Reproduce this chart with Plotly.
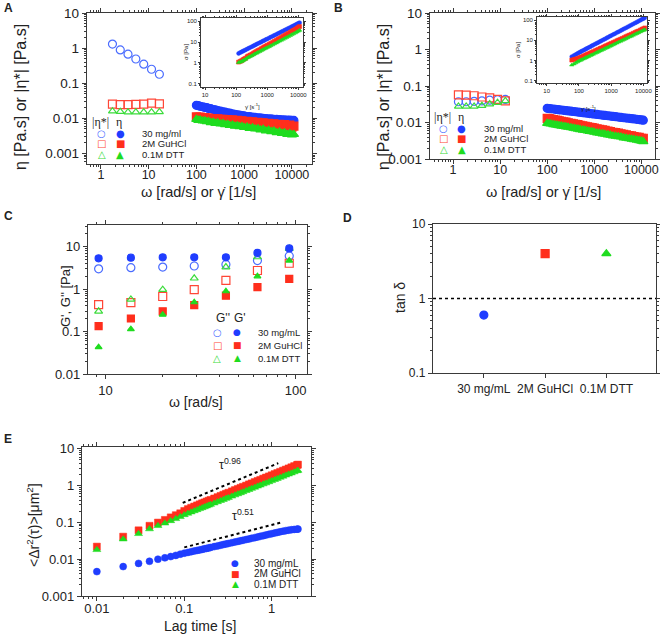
import plotly.graph_objects as go

W, H = 660, 637

# ---------------- data ----------------
# panel A / B : oscillatory |eta*| (open) and steady shear eta (filled)
omega_A = [1.75, 2.55, 3.7, 5.4, 7.9, 11.5, 16.8]
omega_B = [1.3, 1.9, 2.8, 4.1, 6.0, 8.8, 12.9]
A_etastar_30mg = [1.30, 0.89, 0.67, 0.49, 0.35, 0.25, 0.18]
A_etastar_guhcl = [0.0255, 0.0245, 0.0245, 0.025, 0.0255, 0.027, 0.026]
A_etastar_dtt = [0.016, 0.0155, 0.015, 0.015, 0.015, 0.015, 0.0152]

shear_rate = [100, 110, 120, 135, 150, 165, 180, 200, 225, 250, 280, 320, 360, 400, 450,
              500, 570, 640, 720, 800, 900, 1000, 1150, 1300, 1500, 1700, 1950, 2200, 2500,
              2850, 3250, 3700, 4200, 4800, 5500, 6200, 7000, 8000, 9000, 10000, 11000]
A_eta_30mg = [0.0235, 0.0230, 0.0220, 0.0214, 0.0205, 0.0202, 0.0192, 0.0188, 0.0178, 0.0175,
              0.0166, 0.0162, 0.0153, 0.0151, 0.0143, 0.0141, 0.0134, 0.0131, 0.0126, 0.0124,
              0.0119, 0.0118, 0.0113, 0.0112, 0.0108, 0.0107, 0.0104, 0.0103, 0.0100, 0.0099,
              0.0097, 0.0096, 0.0094, 0.0093, 0.0092, 0.0091, 0.0090, 0.0089, 0.0089, 0.0088, 0.0087]
A_eta_guhcl = [0.0110, 0.0106, 0.0108, 0.0103, 0.0105, 0.0101, 0.0102, 0.0098, 0.0099, 0.0095,
               0.0097, 0.0093, 0.0094, 0.0091, 0.0092, 0.0088, 0.0090, 0.0085, 0.0087, 0.0083,
               0.0085, 0.0081, 0.0082, 0.0078, 0.0080, 0.0076, 0.0077, 0.0073, 0.0075, 0.0070,
               0.0072, 0.0068, 0.0070, 0.0066, 0.0068, 0.0063, 0.0066, 0.0060, 0.0064, 0.0056, 0.0060]
A_eta_dtt = [0.0094, 0.0088, 0.0090, 0.0084, 0.0085, 0.0080, 0.0082, 0.0076, 0.0078, 0.0072,
             0.0075, 0.0069, 0.0071, 0.0066, 0.0068, 0.0063, 0.0065, 0.0060, 0.0062, 0.0058,
             0.0059, 0.0055, 0.0057, 0.0052, 0.0054, 0.0050, 0.0051, 0.0047, 0.0049, 0.0044,
             0.0046, 0.0042, 0.0044, 0.0039, 0.0041, 0.0037, 0.0039, 0.0035, 0.0037, 0.0034, 0.0035]

A_inset_rate = shear_rate[2:]
A_sigma_30mg = [2.87, 3.13, 3.39, 3.64, 3.89, 4.22, 4.61, 4.99, 5.43, 6.01, 6.57, 7.12,
                7.77, 8.42, 9.29, 10.1, 11.1, 12.0, 13.1, 14.1, 15.7, 17.2, 19.1, 21.0, 23.2, 25.4,
                28.0, 30.8, 34.0, 37.5, 41.1, 45.4, 50.2, 54.9, 60.1, 66.4, 72.4, 79.1, 84.3]
A_sigma_guhcl = [1.10, 1.19, 1.28, 1.42, 1.55, 1.68, 1.99, 2.18, 2.39, 2.63, 2.94, 3.25, 3.56,
                 3.94, 4.31, 4.81, 5.31, 5.87, 6.41, 7.08, 7.75, 8.72, 9.67, 10.9, 12.1, 13.6, 15.1,
                 16.9, 18.9, 21.1, 23.6, 26.2, 29.4, 33.0, 36.6, 40.6, 45.6, 50.4, 55.0]
A_sigma_dtt = [1.05, 1.10, 1.18, 1.28, 1.38, 1.50, 1.72, 1.88, 2.04, 2.23, 2.48, 2.72, 2.95,
               3.23, 3.51, 3.89, 4.25, 4.66, 5.06, 5.55, 6.03, 6.71, 7.39, 8.27, 9.10, 10.1, 11.1,
               12.3, 13.6, 15.1, 16.7, 18.4, 20.5, 22.7, 25.0, 27.5, 30.6, 33.5, 36.3]

B_etastar_30mg = [0.037, 0.037, 0.038, 0.039, 0.041, 0.042, 0.043]
B_etastar_guhcl = [0.057, 0.056, 0.054, 0.050, 0.047, 0.043, 0.039]
B_etastar_dtt = [0.0276, 0.0275, 0.0276, 0.029, 0.032, 0.035, 0.039]

B_eta_30mg = [0.0245, 0.0241, 0.0238, 0.0234, 0.0230, 0.0226, 0.0223, 0.0220, 0.0215, 0.0212,
              0.0208, 0.0204, 0.0200, 0.0197, 0.0193, 0.0190, 0.0186, 0.0182, 0.0179, 0.0176,
              0.0173, 0.0170, 0.0166, 0.0163, 0.0159, 0.0156, 0.0153, 0.0150, 0.0147, 0.0144,
              0.0141, 0.0138, 0.0135, 0.0132, 0.0130, 0.0127, 0.0125, 0.0122, 0.0120, 0.0118, 0.0116]
B_eta_guhcl = [0.0130, 0.0127, 0.0124, 0.0120, 0.0116, 0.0114, 0.0111, 0.0108, 0.0104, 0.0102,
               0.0098, 0.0095, 0.0092, 0.0089, 0.0087, 0.0084, 0.0081, 0.0079, 0.0076, 0.0074,
               0.0072, 0.0070, 0.0067, 0.0065, 0.0063, 0.0061, 0.0058, 0.0056, 0.0054, 0.0053,
               0.0051, 0.0049, 0.0047, 0.0046, 0.0044, 0.0043, 0.0041, 0.0040, 0.0039, 0.0037, 0.0037]
B_eta_dtt = [0.0095, 0.0093, 0.0091, 0.0088, 0.0086, 0.0084, 0.0082, 0.0080, 0.0078, 0.0076,
             0.0074, 0.0072, 0.0070, 0.0068, 0.0066, 0.0064, 0.0062, 0.0061, 0.0059, 0.0057,
             0.0056, 0.0054, 0.0052, 0.0051, 0.0049, 0.0048, 0.0046, 0.0045, 0.0043, 0.0042,
             0.0041, 0.0040, 0.0038, 0.0037, 0.0036, 0.0035, 0.0034, 0.0033, 0.0032, 0.0031, 0.0030]

B_inset_rate = [60, 70, 80, 90] + shear_rate
B_sigma_30mg = [1.55, 1.78, 2.00, 2.23, 2.45, 2.65, 2.86, 3.16, 3.45, 3.73, 4.01, 4.40, 4.84, 5.30,
                5.82, 6.53, 7.20, 7.88, 8.69, 9.50, 10.6, 11.6, 12.9, 14.1, 15.6, 17.0, 19.1, 21.2,
                23.9, 26.5, 29.8, 33.0, 36.8, 41.0, 45.8, 51.1, 56.7, 63.4, 71.5, 78.7, 87.5, 97.6,
                108, 118, 128]
B_sigma_guhcl = [1.05, 1.12, 1.18, 1.24, 1.30, 1.40, 1.49, 1.62, 1.74, 1.88, 2.00, 2.16, 2.34, 2.55,
                 2.74, 3.04, 3.31, 3.56, 3.92, 4.20, 4.62, 5.06, 5.47, 5.92, 6.48, 7.00, 7.71, 8.45,
                 9.45, 10.4, 11.3, 12.3, 13.5, 15.1, 16.6, 18.1, 19.7, 22.1, 24.2, 26.7, 28.7, 32.0,
                 35.1, 37.0, 40.7]
B_sigma_dtt = [0.60, 0.68, 0.77, 0.86, 0.95, 1.02, 1.09, 1.19, 1.29, 1.39, 1.48, 1.60, 1.76, 1.90,
               2.07, 2.30, 2.52, 2.72, 2.97, 3.20, 3.53, 3.90, 4.25, 4.56, 5.04, 5.40, 5.98, 6.63,
               7.35, 8.16, 8.97, 9.90, 10.8, 12.0, 13.3, 14.8, 16.0, 17.8, 19.8, 21.7, 23.8, 26.4,
               28.8, 31.0, 33.0]

# panel C : G' (filled), G'' (open)
omega_C = [9.2, 13.6, 20, 29.3, 43, 63, 92.6]
Gp_30mg = [5.3, 5.5, 5.6, 5.6, 5.6, 7.1, 9.1]
Gpp_30mg = [3.0, 3.2, 3.3, 3.5, 3.8, 4.7, 6.05]
Gp_guhcl = [0.134, 0.203, 0.30, 0.42, 0.70, 1.11, 1.75]
Gpp_guhcl = [0.43, 0.48, 0.67, 0.97, 1.6, 2.74, 4.06]
Gp_dtt = [0.043, 0.114, 0.25, 0.49, 0.89, 2.0, 4.7]
Gpp_dtt = [0.30, 0.57, 0.97, 1.8, 3.3, 5.7, 9.0]

# panel D : tan delta
samples_C = ["30 mg/mL", "2M GuHCl", "0.1M DTT"]
tan_delta = [0.60, 4.0, 4.0]

# panel E : MSD
lag_time = [0.01, 0.02, 0.03, 0.04, 0.05, 0.06, 0.07, 0.08, 0.09, 0.10,
            0.11, 0.12, 0.13, 0.14, 0.15, 0.16, 0.17, 0.18, 0.19, 0.20, 0.22, 0.24, 0.26, 0.28,
            0.30, 0.32, 0.35, 0.38, 0.41, 0.44, 0.47, 0.51, 0.55, 0.59, 0.64, 0.69, 0.74, 0.80,
            0.86, 0.93, 1.00, 1.08, 1.16, 1.25, 1.35, 1.45, 1.56, 1.68, 1.81, 1.95, 2.00]
msd_30mg = [0.0046, 0.0063, 0.0077, 0.0088, 0.0100, 0.0109, 0.0118, 0.0127, 0.0137, 0.0146,
            0.0153, 0.0160, 0.0167, 0.0173, 0.0179, 0.0185, 0.0191, 0.0197, 0.0203, 0.0209,
            0.0220, 0.0230, 0.0240, 0.0250, 0.0259, 0.0268, 0.0281, 0.0293, 0.0305, 0.0316,
            0.0327, 0.0342, 0.0356, 0.0370, 0.0386, 0.0402, 0.0418, 0.0436, 0.0454, 0.0474,
            0.0493, 0.0514, 0.0535, 0.0556, 0.0578, 0.0598, 0.0616, 0.0632, 0.0645, 0.0655, 0.0658]
msd_guhcl = [0.022, 0.041, 0.061, 0.081, 0.099, 0.117, 0.137, 0.157, 0.177, 0.205,
             0.230, 0.250, 0.270, 0.290, 0.310, 0.330, 0.349, 0.369, 0.389, 0.408, 0.447, 0.486,
             0.525, 0.564, 0.603, 0.641, 0.698, 0.757, 0.813, 0.869, 0.927, 1.00, 1.08, 1.15,
             1.25, 1.34, 1.43, 1.55, 1.66, 1.78, 1.91, 2.06, 2.20, 2.37, 2.55, 2.73, 2.93, 3.15,
             3.39, 3.63, 3.72]
msd_dtt = [0.018, 0.035, 0.049, 0.066, 0.081, 0.095, 0.110, 0.125, 0.142, 0.160,
           0.175, 0.190, 0.205, 0.219, 0.234, 0.248, 0.262, 0.277, 0.291, 0.305, 0.333, 0.361,
           0.389, 0.416, 0.444, 0.471, 0.512, 0.552, 0.593, 0.632, 0.673, 0.726, 0.777, 0.830,
           0.895, 0.960, 1.02, 1.10, 1.17, 1.26, 1.35, 1.45, 1.55, 1.66, 1.78, 1.91, 2.04, 2.18,
           2.34, 2.51, 2.56]
guide_096_t = [0.096, 1.19]
guide_096_y = [0.34, 4.07]
guide_051_t = [0.10, 1.29]
guide_051_y = [0.021, 0.10]

labels_A = ["30 mg/ml", "2M GuHCl", "0.1M DTT"]
labels_C = ["30 mg/mL", "2M GuHCl", "0.1M DTT"]

BLUE, RED, GREEN = "#1f3dff", "#ff2e1c", "#1fdc1f"
BLUE_O, RED_O, GREEN_O = "#4a6cff", "#ff4636", "#3cdc3c"
AX = "#3a3a3a"
FONT = "Arial, Liberation Sans, sans-serif"


def xd(p0, p1):
    return [p0 / W, p1 / W]


def yd(p0, p1):
    return [1 - p1 / H, 1 - p0 / H]


minor_vals = [m * 10 ** e for e in range(-4, 6) for m in range(2, 10)]


def logax(dom, rng, vals, size, anchor, tl=4, mtl=2, lw=1.4, standoff=0):
    return dict(type="log", domain=dom, range=rng, anchor=anchor, automargin=False,
                showline=True, linecolor=AX, linewidth=lw, mirror="allticks",
                ticks="outside", ticklen=tl, tickwidth=1.1, tickcolor=AX,
                tickvals=vals, ticktext=["%g" % v for v in vals],
                ticklabelstandoff=standoff,
                tickfont=dict(size=size, family=FONT, color="#222"),
                showgrid=False, zeroline=False,
                minor=dict(ticks="outside", ticklen=mtl, tickwidth=0.9, tickcolor=AX,
                           tickvals=minor_vals, showgrid=False))


fig = go.Figure()


def sc(x, y, sym, col, size, xa, ya, lw=1.2):
    fig.add_trace(go.Scatter(x=x, y=y, mode="markers", xaxis=xa, yaxis=ya, showlegend=False,
                             marker=dict(symbol=sym, color=col, size=size,
                                         line=dict(color=col, width=lw))))


# A
sc(omega_A, A_etastar_30mg, "circle-open", BLUE_O, 8, "x", "y")
sc(omega_A, A_etastar_guhcl, "square-open", RED_O, 8, "x", "y")
sc(omega_A, A_etastar_dtt, "triangle-up-open", GREEN_O, 7, "x", "y")
sc(shear_rate, A_eta_30mg, "circle", BLUE, 8, "x", "y")
sc(shear_rate, A_eta_guhcl, "square", RED, 8, "x", "y")
sc(shear_rate, A_eta_dtt, "triangle-up", GREEN, 8, "x", "y")
sc(A_inset_rate, A_sigma_30mg, "circle", BLUE, 4, "x2", "y2", 0.5)
sc(A_inset_rate, A_sigma_guhcl, "square", RED, 4, "x2", "y2", 0.5)
sc(A_inset_rate, A_sigma_dtt, "triangle-up", GREEN, 4, "x2", "y2", 0.5)
# B
sc(omega_B, B_etastar_30mg, "circle-open", BLUE_O, 8, "x3", "y3")
sc(omega_B, B_etastar_guhcl, "square-open", RED_O, 8, "x3", "y3")
sc(omega_B, B_etastar_dtt, "triangle-up-open", GREEN_O, 7, "x3", "y3")
sc(shear_rate, B_eta_30mg, "circle", BLUE, 8, "x3", "y3")
sc(shear_rate, B_eta_guhcl, "square", RED, 8, "x3", "y3")
sc(shear_rate, B_eta_dtt, "triangle-up", GREEN, 8, "x3", "y3")
sc(B_inset_rate, B_sigma_30mg, "circle", BLUE, 4, "x4", "y4", 0.5)
sc(B_inset_rate, B_sigma_guhcl, "square", RED, 4, "x4", "y4", 0.5)
sc(B_inset_rate, B_sigma_dtt, "triangle-up", GREEN, 4, "x4", "y4", 0.5)
# C
sc(omega_C, Gpp_30mg, "circle-open", BLUE_O, 8, "x5", "y5")
sc(omega_C, Gpp_guhcl, "square-open", RED_O, 8, "x5", "y5")
sc(omega_C, Gpp_dtt, "triangle-up-open", GREEN_O, 7, "x5", "y5")
sc(omega_C, Gp_30mg, "circle", BLUE, 7, "x5", "y5")
sc(omega_C, Gp_guhcl, "square", RED, 7, "x5", "y5")
sc(omega_C, Gp_dtt, "triangle-up", GREEN, 6, "x5", "y5")
# D
for i, (col, sym) in enumerate([(BLUE, "circle"), (RED, "square"), (GREEN, "triangle-up")]):
    sc([i], [tan_delta[i]], sym, col, 8, "x6", "y6")
# E
sc(lag_time, msd_30mg, "circle", BLUE, 7, "x7", "y7", 0.5)
sc(lag_time, msd_guhcl, "square", RED, 7, "x7", "y7", 0.5)
sc(lag_time, msd_dtt, "triangle-up", GREEN, 7, "x7", "y7", 0.5)
for gx, gy in [(guide_096_t, guide_096_y), (guide_051_t, guide_051_y)]:
    fig.add_trace(go.Scatter(x=gx, y=gy, mode="lines", xaxis="x7", yaxis="y7", showlegend=False,
                             line=dict(color="black", width=2, dash="dot")))

dec = [0.001, 0.01, 0.1, 1, 10]
lay = dict(
    xaxis=logax(xd(87, 312), [-0.29, 4.42], [1, 10, 100, 1000, 10000], 12.5, "y", standoff=-5),
    yaxis=logax(yd(13, 164), [-3.3, 1.0], dec, 13.5, "x"),
    xaxis2=logax(xd(201, 303), [0.87, 4.15], [10, 100, 1000, 10000], 6, "y2", 2, 1, 0.8),
    yaxis2=logax(yd(18, 87), [-1.15, 2.15], [0.1, 1, 10, 100], 6, "x2", 2, 1, 0.8),
    xaxis3=logax(xd(430, 655), [-0.49, 4.29], [1, 10, 100, 1000, 10000], 12.5, "y3", standoff=-5),
    yaxis3=logax(yd(13, 159), [-3.0, 1.0], dec, 13.5, "x3"),
    xaxis4=logax(xd(537, 647), [0.70, 4.11], [10, 100, 1000, 10000], 6, "y4", 2, 1, 0.8),
    yaxis4=logax(yd(17, 83), [-1.11, 2.15], [0.1, 1, 10, 100], 6, "x4", 2, 1, 0.8),
    xaxis5=logax(xd(88, 307), [0.908, 2.06], [10, 100], 13, "y5"),
    yaxis5=logax(yd(225, 374), [-2.0, 1.51], [0.01, 0.1, 1, 10], 13, "x5"),
    xaxis7=logax(xd(82, 311), [-2.17, 0.45], [0.01, 0.1, 1], 13, "y7", standoff=-4),
    yaxis7=logax(yd(447, 596), [-3.0, 1.05], dec, 13, "x7"),
)
lay["xaxis6"] = dict(domain=xd(433, 656), range=[-0.83, 2.81], anchor="y6", showline=True,
                     automargin=False, linecolor=AX, linewidth=1.4, mirror=True,
                     ticks="outside", ticklen=4, tickcolor=AX, tickvals=[0, 1, 2],
                     ticktext=samples_C, showgrid=False, zeroline=False,
                     tickfont=dict(size=12, family=FONT, color="#222"))
lay["yaxis6"] = logax(yd(224, 373), [-1.0, 1.0], [0.1, 1, 10], 12, "x6")

fig.update_layout(**lay)
fig.add_shape(type="line", xref="x6 domain", yref="y6", x0=0, x1=1, y0=1, y1=1,
              line=dict(color="black", width=1.5, dash="dot"))

ann = []


def txt(x, y, s, size=12, angle=0, xanchor="center", color="#222", family=FONT):
    ann.append(dict(x=x / W, y=1 - y / H, xref="paper", yref="paper", text=s, showarrow=False,
                    textangle=angle, xanchor=xanchor, yanchor="middle",
                    font=dict(size=size, family=family, color=color)))


# panel letters
for s, x, y in [("A", 8, 8), ("B", 338, 8), ("C", 8, 216), ("D", 348, 218), ("E", 8, 439)]:
    txt(x, y, "<b>%s</b>" % s, 12)

# axis titles
txt(20, 97, "η [Pa.s] or |η*| [Pa.s]", 16, -90)
txt(198, 192, "ω [rad/s] or γ̇ [1/s]", 14.5)
txt(383, 97, "η [Pa.s] or |η*| [Pa.s]", 16, -90)
txt(543, 192, "ω [rad/s] or γ̇ [1/s]", 14.5)
txt(66, 296, "G', G'' [Pa]", 13, -90)
txt(196, 402, "ω [rad/s]", 14)
txt(400, 298, "tan δ", 14, -90)
txt(33, 525, "&lt;Δr<sup>2</sup>(τ)&gt;[μm<sup>2</sup>]", 14, -90)
txt(200, 626, "Lag time [s]", 14)
# inset titles
txt(186, 52, "σ [Pa]", 6, -90)
txt(252, 106, "γ̇ [s<sup>-1</sup>]", 6)
txt(518, 50, "σ [Pa]", 6, -90)
txt(588, 108, "γ̇ [s<sup>-1</sup>]", 6)

# legends A / B
for x0, y0, labels in [(100, 121.7, labels_A), (442, 116.7, labels_A)]:
    txt(x0, y0, "|η*|", 12, family="Liberation Serif, serif")
    txt(x0 + 19, y0, "η", 12, family="Liberation Serif, serif")
    for k, (o, f, c, co, l) in enumerate([("○", "●", BLUE, BLUE_O, labels[0]),
                                          ("□", "■", RED, RED_O, labels[1]),
                                          ("△", "▲", GREEN, GREEN_O, labels[2])]):
        yy = y0 + 11.5 + 10.7 * k
        txt(x0 + 1.5, yy, o, 10, color=co, family="DejaVu Sans")
        txt(x0 + 20, yy, f, 10, color=c, family="DejaVu Sans")
        txt(x0 + 40, yy, l, 9.5, xanchor="left")

# legend C
txt(223, 318, "G''", 12)
txt(240, 318, "G'", 12)
for k, (o, f, c, co, l) in enumerate([("○", "●", BLUE, BLUE_O, labels_C[0]),
                                      ("□", "■", RED, RED_O, labels_C[1]),
                                      ("△", "▲", GREEN, GREEN_O, labels_C[2])]):
    yy = 332 + 13 * k
    txt(217, yy, o, 10, color=co, family="DejaVu Sans")
    txt(237, yy, f, 9, color=c, family="DejaVu Sans")
    txt(256, yy, l, 9.5, xanchor="left")

# legend E
for k, (f, c, l) in enumerate([("●", BLUE, labels_C[0]), ("■", RED, labels_C[1]),
                               ("▲", GREEN, labels_C[2])]):
    yy = 563 + 10.7 * k
    txt(235, yy, f, 9, color=c, family="DejaVu Sans")
    txt(252, yy, l, 10, xanchor="left")
txt(230, 464, "τ<sup>0.96</sup>", 12.5)
txt(243, 515, "τ<sup>0.51</sup>", 12.5)

fig.update_layout(annotations=ann, width=W, height=H, margin=dict(l=0, r=0, t=0, b=0),
                  paper_bgcolor="white", plot_bgcolor="white", showlegend=False,
                  font=dict(family=FONT))
# the page body has a default 8px margin; drop it so the figure fills the window
fig.write_html("out.html", config={"displayModeBar": False},
               post_script="document.body.style.margin='0';"
                           "document.body.style.overflow='hidden';")
